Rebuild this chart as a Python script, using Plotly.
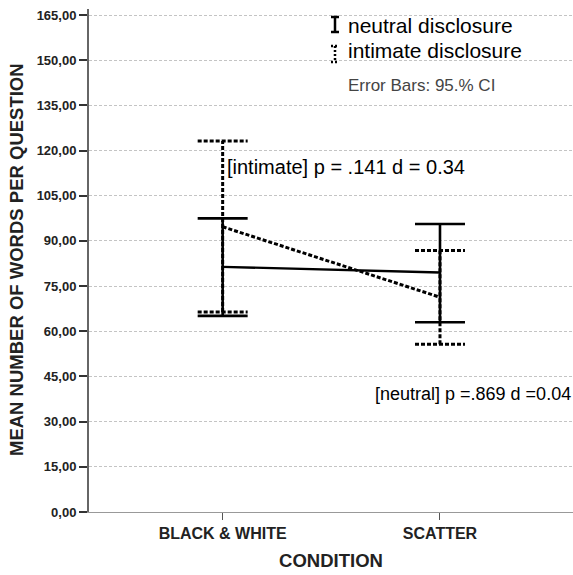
import plotly.graph_objects as go

# ---------------- data ----------------
categories = ["BLACK & WHITE", "SCATTER"]
neutral_mean = [81.4, 79.5]
neutral_lo = [65.1, 63.0]
neutral_hi = [97.5, 95.6]
intimate_mean = [94.7, 71.3]
intimate_lo = [66.4, 55.7]
intimate_hi = [123.2, 86.8]
y_tick_vals = [0, 15, 30, 45, 60, 75, 90, 105, 120, 135, 150, 165]
y_tick_labels = ["0,00", "15,00", "30,00", "45,00", "60,00", "75,00", "90,00",
                 "105,00", "120,00", "135,00", "150,00", "165,00"]
legend_labels = ["neutral disclosure", "intimate disclosure"]
note_text = "Error Bars: 95.% CI"
intimate_stat = "[intimate] p = .141 d = 0.34"
neutral_stat = "[neutral] p =.869 d =0.04"

# ---------------- style ----------------
CAP = 0.115
DOT = "4px,2px"
xs = list(range(len(categories)))


def errorbar_xy(lo, hi):
    x, y = [], []
    for i, (l, h) in enumerate(zip(lo, hi)):
        x += [i, i, None, i - CAP, i + CAP, None, i - CAP, i + CAP, None]
        y += [l, h, None, h, h, None, l, l, None]
    return x, y


fig = go.Figure()

nx, ny = errorbar_xy(neutral_lo, neutral_hi)
fig.add_trace(go.Scatter(x=nx, y=ny, mode="lines", line=dict(color="black", width=2.6),
                         showlegend=False, hoverinfo="skip"))
fig.add_trace(go.Scatter(x=xs, y=neutral_mean, mode="lines",
                         line=dict(color="black", width=2.4), showlegend=False))
ix, iy = errorbar_xy(intimate_lo, intimate_hi)
fig.add_trace(go.Scatter(x=ix, y=iy, mode="lines",
                         line=dict(color="black", width=3, dash=DOT),
                         showlegend=False, hoverinfo="skip"))
fig.add_trace(go.Scatter(x=xs, y=intimate_mean, mode="lines",
                         line=dict(color="black", width=3, dash=DOT), showlegend=False))

# plot area in pixels: x 89..573, y 9..512
L, R, T, B = 89, 573, 9, 512
W, H = R - L, B - T


def px(x):
    return (x - L) / W


def py(y):
    return (B - y) / H


TXT = "Liberation Sans"
fig.update_layout(
    width=573, height=575,
    margin=dict(l=L, r=573 - R, t=T, b=575 - B),
    paper_bgcolor="white", plot_bgcolor="white",
    showlegend=False,
    xaxis=dict(range=[-0.615, 1.612], tickvals=xs, ticktext=categories,
               ticks="outside", ticklen=7, tickwidth=1, tickcolor="#555",
               showgrid=False, zeroline=False,
               showline=True, linecolor="#999", linewidth=1,
               tickfont=dict(family=TXT, size=16, color="#222", weight="bold"),
               title=dict(text="CONDITION", font=dict(family=TXT, size=18.5, color="#222", weight="bold"),
                          standoff=12)),
    yaxis=dict(range=[0, 167], tickvals=y_tick_vals, ticktext=y_tick_labels,
               ticks="outside", ticklen=8, tickwidth=2, tickcolor="#333",
               showgrid=True, gridcolor="#c4c4c4", gridwidth=1, griddash="3px,2px",
               zeroline=False, showline=True, linecolor="#666", linewidth=2,
               tickfont=dict(family=TXT, size=13, color="#222", weight="bold")),
)

fig.add_annotation(xref="paper", yref="paper", x=px(16), y=py(260), text="MEAN NUMBER OF WORDS PER QUESTION",
                   textangle=-90, showarrow=False, xanchor="center", yanchor="middle",
                   font=dict(family=TXT, size=18.5, color="#222", weight="bold"))

fig.add_annotation(x=0.01, y=114.5, text=intimate_stat, showarrow=False, xanchor="left",
                   yanchor="middle", font=dict(family=TXT, size=20, color="black"))
fig.add_annotation(x=0.69, y=39.2, text=neutral_stat, showarrow=False, xanchor="left",
                   yanchor="middle", font=dict(family=TXT, size=18, color="black"))

# legend
fig.add_annotation(xref="paper", yref="paper", x=px(346), y=py(26), text=legend_labels[0],
                   showarrow=False, xanchor="left", yanchor="middle",
                   font=dict(family=TXT, size=21, color="black"))
fig.add_annotation(xref="paper", yref="paper", x=px(346), y=py(51), text=legend_labels[1],
                   showarrow=False, xanchor="left", yanchor="middle",
                   font=dict(family=TXT, size=21, color="black"))
fig.add_annotation(xref="paper", yref="paper", x=px(346), y=py(86), text=note_text,
                   showarrow=False, xanchor="left", yanchor="middle",
                   font=dict(family=TXT, size=17, color="#444"))

# legend icons
for y0, y1, dash in [(17, 32, "solid"), (46, 62, "2px,2px")]:
    for (a, b, c, d) in [(335, y0, 335, y1), (331, y0, 339, y0), (331, y1, 339, y1)]:
        fig.add_shape(type="line", xref="paper", yref="paper", x0=px(a), y0=py(b), x1=px(c), y1=py(d),
                      line=dict(color="black", width=2.5, dash=dash))

fig.write_html("out.html")
